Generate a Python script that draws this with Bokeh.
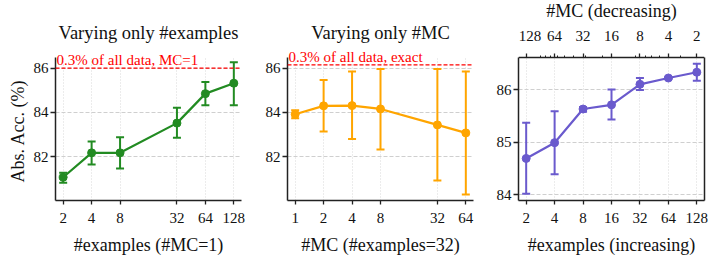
from bokeh.plotting import figure
from bokeh.layouts import row
from bokeh.models import (ColumnDataSource, Whisker, TeeHead, Span, Label, FixedTicker,
                          Range1d, LogAxis, LinearAxis, BoxAnnotation, Title)
from bokeh.embed import file_html
from bokeh.resources import INLINE
import math

# ---------------- data ----------------
ex1 = [2, 4, 8, 32, 64, 128]
acc1 = [81.08, 82.18, 82.18, 83.52, 84.85, 85.32]
lo1 = [80.83, 81.65, 81.47, 82.86, 84.33, 84.33]
hi1 = [81.28, 82.69, 82.88, 84.21, 85.38, 86.27]
ref1 = 86.0
ref1_text = "0.3% of all data, MC=1"

mc2 = [1, 2, 4, 8, 32, 64]
acc2 = [83.92, 84.30, 84.31, 84.16, 83.44, 83.08]
lo2 = [83.74, 83.14, 82.80, 82.33, 80.93, 80.30]
hi2 = [84.10, 85.46, 85.85, 85.96, 85.96, 85.85]
ref2 = 86.15
ref2_text = "0.3% of all data, exact"

ex3 = [2, 4, 8, 16, 32, 64, 128]
mc3 = [128, 64, 32, 16, 8, 4, 2]
acc3 = [84.69, 84.99, 85.63, 85.71, 86.10, 86.22, 86.33]
lo3 = [84.02, 84.39, 85.58, 85.43, 85.99, 86.20, 86.17]
hi3 = [85.37, 85.59, 85.67, 86.00, 86.22, 86.24, 86.49]
mc3_minor = [90, 80, 70, 60, 50, 40, 30, 20, 9, 7, 6, 5, 3]
mc3_total = 256  # examples x MC

yticks12 = [82, 84, 86]
yticks3 = [84, 85, 86]
ylim12 = (80.03, 86.48)
ylim3 = (83.89, 86.61)

titles = ["Varying only #examples", "Varying only #MC"]
xlabels = ["#examples (#MC=1)", "#MC (#examples=32)", "#examples (increasing)"]
ylabel = "Abs. Acc. (%)"
toplabel = "#MC (decreasing)"

colors = ["#228B22", "#FFA500", "#6A5ACD"]
FONT = "'Liberation Serif'"
NBSP = "\u00a0"
FW = 186
AX_H = 143      # height of the axes box
EXTRA = 57      # frame room above the axes box (titles, notes, top axis)
MARGIN = 0.27   # log2 units


def log_range(xs):
    a = math.log2(min(xs)) - MARGIN
    b = math.log2(max(xs)) + MARGIN
    return Range1d(2 ** a, 2 ** b)


def style_axis(ax, tick_out=5):
    ax.axis_line_width = 1.5
    ax.axis_line_color = "#222222"
    ax.major_tick_line_color = "#222222"
    ax.major_tick_line_width = 1.3
    ax.major_tick_out = tick_out
    ax.major_tick_in = 0
    ax.minor_tick_line_color = None
    ax.major_label_text_font = FONT
    ax.major_label_text_font_size = "15px"
    ax.major_label_text_color = "#111111"
    ax.axis_label_text_font = FONT
    ax.axis_label_text_font_size = "18px"
    ax.axis_label_text_font_style = "normal"
    ax.axis_label_text_color = "#111111"


def make_fig(xs, ys, lo, hi, color, ylim, yticks, xlabel, left, right, title=None):
    ytop = ylim[1] + (ylim[1] - ylim[0]) * EXTRA / AX_H
    xr = log_range(xs)
    p = figure(x_axis_type="log", x_range=xr, y_range=Range1d(ylim[0], ytop),
               frame_width=FW, frame_height=AX_H + EXTRA, toolbar_location=None,
               output_backend="svg", min_border_left=left, min_border_right=right,
               min_border_top=0, min_border_bottom=60)
    p.background_fill_color = "white"
    p.border_fill_color = "white"
    p.outline_line_color = None
    xa = p.xaxis[0]
    xa.ticker = FixedTicker(ticks=xs)
    xa.major_label_overrides = {x: str(x) for x in xs}
    ya = p.yaxis[0]
    ya.ticker = FixedTicker(ticks=yticks)
    ya.bounds = ylim
    style_axis(xa, 4)
    style_axis(ya, 5)
    xa.axis_label = xlabel
    xa.major_label_standoff = 8
    xa.axis_label_standoff = 9
    ya.major_label_standoff = 2

    p.xgrid.grid_line_color = "#d8d8d8"
    p.xgrid.grid_line_dash = "1 2"
    p.xgrid.grid_line_width = 1
    p.ygrid.grid_line_color = "#cfcfcf"
    p.ygrid.grid_line_dash = "4 2"
    p.ygrid.grid_line_width = 1
    # blank the strip above the axes box (grid lines stop at the box top)
    p.add_layout(BoxAnnotation(bottom=ylim[1], fill_color="white", fill_alpha=1.0,
                               line_color=None, level="underlay"))

    src = ColumnDataSource(dict(x=xs, y=ys, lo=lo, hi=hi))
    p.line("x", "y", source=src, line_color=color, line_width=2.2)
    p.add_layout(Whisker(base="x", lower="lo", upper="hi", source=src,
                         line_color=color, line_width=2,
                         lower_head=TeeHead(size=8, line_color=color, line_width=2),
                         upper_head=TeeHead(size=8, line_color=color, line_width=2)))
    p.scatter("x", "y", source=src, size=8, fill_color=color, line_color=color)

    if title:
        xc = math.sqrt(xr.start * xr.end)
        p.add_layout(Label(x=xc, y=ylim[1], y_offset=25, text=title,
                           text_align="center", text_baseline="middle",
                           text_font=FONT, text_font_size="18.5px", text_color="#111111"))
    return p


def add_ref(p, level, text):
    p.add_layout(Span(location=level, dimension="width", line_color="red",
                      line_dash="4 2", line_width=1.3))
    p.add_layout(Label(x=p.x_range.start, y=level, text=text, x_offset=1, y_offset=0,
                       text_baseline="bottom", text_align="left",
                       text_font=FONT, text_font_size="15px", text_color="red"))


p1 = make_fig(ex1, acc1, lo1, hi1, colors[0], ylim12, yticks12, xlabels[0], 55, 6, titles[0])
# y label as a left-side title, starting from the bottom of the frame and lifted a little
p1.add_layout(Title(text=ylabel, align="left", offset=18, standoff=5,
                    text_font=FONT, text_font_size="18px", text_font_style="normal",
                    text_color="#111111"), "left")
add_ref(p1, ref1, ref1_text)

p2 = make_fig(mc2, acc2, lo2, hi2, colors[1], ylim12, yticks12, xlabels[1], 40, 6, titles[1])
add_ref(p2, ref2, ref2_text)

p3 = make_fig(ex3, acc3, lo3, hi3, colors[2], ylim3, yticks3, xlabels[2], 39, 8)
top_labels = {x: str(m) for x, m in zip(ex3, mc3)}
top_labels[ex3[0]] = NBSP * 2 + top_labels[ex3[0]]   # keep the first label inside the frame
top = LogAxis(ticker=FixedTicker(ticks=ex3, minor_ticks=[mc3_total / m for m in mc3_minor]),
              major_label_overrides=top_labels,
              axis_label=toplabel, fixed_location=ylim3[1])
style_axis(top, 4)
top.minor_tick_line_color = "#222222"
top.minor_tick_line_width = 1
top.minor_tick_out = 2
top.minor_tick_in = 0
top.major_label_standoff = 10
top.axis_label_standoff = 4
p3.add_layout(top, "above")
right = LinearAxis(ticker=FixedTicker(ticks=[]), bounds=ylim3)
right.axis_line_width = 1.5
right.axis_line_color = "#222222"
right.major_tick_line_color = None
right.minor_tick_line_color = None
p3.add_layout(right, "right")

layout = row(p1, p2, p3, spacing=0)
open("out.html", "w").write(file_html(layout, INLINE))
